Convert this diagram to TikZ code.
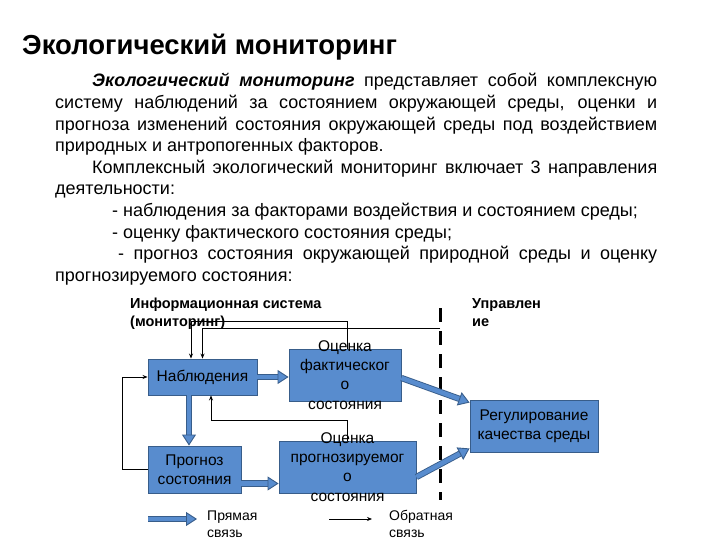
\documentclass[tikz,border=0pt]{standalone}
\usepackage{fontspec}
\setmainfont{Liberation Sans}
\usetikzlibrary{arrows.meta}
\definecolor{zalivka}{RGB}{88,140,206}
\definecolor{ramka}{RGB}{56,93,138}

\begin{document}
\begin{tikzpicture}[x=1bp,y=-1bp,
	blok/.style={draw=ramka, line width=0.9bp, fill=zalivka, inner sep=0pt},
	bloktekst/.style={align=center, inner sep=0pt, font=\fontsize{15.5bp}{19.3bp}\selectfont},
	zag/.style={align=left, inner sep=0pt, font=\bfseries\fontsize{14.5bp}{18bp}\selectfont},
	legtekst/.style={align=left, inner sep=0pt, font=\fontsize{14bp}{17bp}\selectfont},
	pryam/.style={draw=ramka, line width=0.9bp, double=zalivka, double distance=4.5bp,
		-{Triangle[length=11bp,width=14bp,fill=zalivka]}},
	obr/.style={draw=black, line width=0.7bp, -{Stealth[length=5bp,width=4bp]}}]

	\useasboundingbox (0,0) rectangle (720,540);
	\clip (0,0) rectangle (720,540);

	% zagolovok i tekst
	\node[anchor=base west, inner sep=0pt, font=\bfseries\fontsize{27.5bp}{33bp}\selectfont] (titul) at (22,55)
		{Экологический мониторинг};
	\node[anchor=base west, text width=602bp, align=justify, inner sep=0pt,
		font=\fontsize{18bp}{21.6bp}\selectfont] (tekst) at (55,87) {%
		\hspace*{37bp}\textbf{\textit{Экологический мониторинг}} представляет собой комплексную\linebreak
		систему наблюдений за состоянием окружающей среды, оценки и\linebreak
		прогноза изменений состояния окружающей среды под воздействием\linebreak
		природных и антропогенных факторов.\par
		\hspace*{37bp}Комплексный экологический мониторинг включает 3 направления\linebreak
		деятельности:\\
		\hspace*{57bp}- наблюдения за факторами воздействия и состоянием среды;\\
		\hspace*{57bp}- оценку фактического состояния среды;\\
		\hspace*{63bp}- прогноз состояния окружающей природной среды и оценку\linebreak
		прогнозируемого состояния:};

	% base = poslednyaya stroka
	\node[zag, anchor=base west] (infsist) at (130,326) {Информационная система\\(мониторинг)};
	\node[zag, anchor=base west] (upr) at (472,326) {Управлен\\ие};

	% granica
	\coordinate (gr1) at (440,308);
	\coordinate (gr2) at (440,500);
	\coordinate (granica) at (440,328);
	\draw[line width=3bp, dash pattern=on 14bp off 9bp] (gr1) -- (gr2);

	% bloki
	\node[blok, minimum width=109bp, minimum height=36bp] (nabl) at (202.5,377) {};
	\node[blok, minimum width=112bp, minimum height=52bp] (ocfakt) at (345,375) {};
	\node[blok, minimum width=93bp, minimum height=47bp] (prog) at (194.5,469.5) {};
	\node[blok, minimum width=137bp, minimum height=52bp] (ocprog) at (347.5,467) {};
	\node[blok, minimum width=128bp, minimum height=52bp] (reg) at (534,426) {};

	% obratnaya svyaz
	\draw[obr] (prog.west) -- ++(-25,0) |- (nabl.west);
	\draw[obr] ([xshift=2bp]ocfakt.north) -- ++(0,-27) -| ([xshift=-11.5bp]nabl.north);
	\draw[obr] (granica) -| (nabl.north);
	\draw[obr] (ocprog.north) -- ++(0,-20) -| ([xshift=8.5bp]nabl.south);

	% pryamaya svyaz
	\draw[pryam] (nabl.east) -- (nabl.east -| ocfakt.west);
	\draw[pryam] ([xshift=-13.5bp]nabl.south) -- ([xshift=-13.5bp]nabl.south |- prog.north);
	\draw[pryam] ([yshift=-14bp]prog.east) -- ([yshift=-14bp]prog.east -| ocprog.west);
	\draw[pryam] ([yshift=-3bp]ocfakt.east) -- ([yshift=-3bp]reg.north west);
	\draw[pryam] ([yshift=-10bp]ocprog.east) -- ([yshift=4bp]reg.south west);

	\node[bloktekst] (nablT) at (nabl) {Наблюдения};
	\node[bloktekst] (ocfaktT) at (ocfakt) {Оценка\\фактическог\\о\\состояния};
	\node[bloktekst] (progT) at (prog) {Прогноз\\состояния};
	\node[bloktekst] (ocprogT) at (ocprog) {Оценка\\прогнозируемог\\о\\состояния};
	\node[bloktekst] (regT) at (reg) {Регулирование\\качества среды};

	% legenda
	\coordinate (lp1) at (148,519);
	\coordinate (lp2) at (197,519);
	\draw[pryam] (lp1) -- (lp2);
	\node[legtekst, anchor=base west] (lpT) at (207,537.5) {Прямая\\связь};
	\coordinate (lo1) at (329,519);
	\coordinate (lo2) at (372,519);
	\draw[obr] (lo1) -- (lo2);
	\node[legtekst, anchor=base west] (loT) at (389,537.5) {Обратная\\связь};

\end{tikzpicture}
\end{document}
